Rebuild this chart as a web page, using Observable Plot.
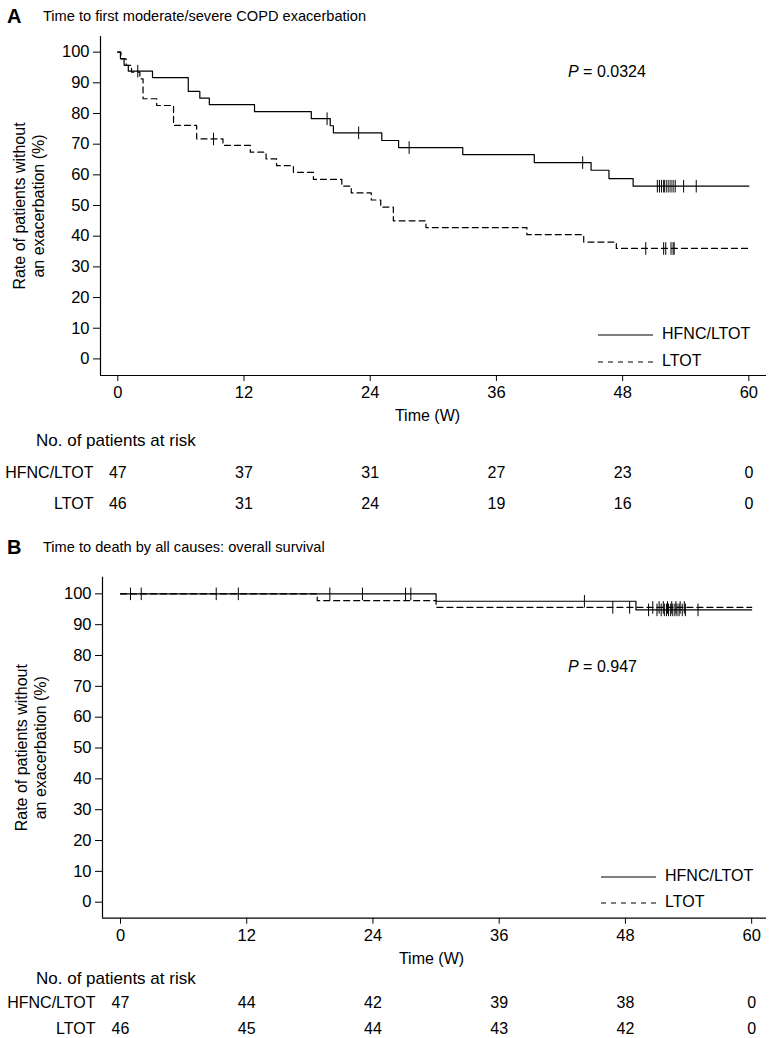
<!DOCTYPE html>
<html><head><meta charset="utf-8">
<script src="https://cdn.jsdelivr.net/npm/d3@7"></script>
<script src="https://cdn.jsdelivr.net/npm/@observablehq/plot@0.6"></script>
<style>
body{margin:0;background:#fff;font-family:"Liberation Sans",Arial,Helvetica,sans-serif;color:#000}
#page{position:relative;width:769px;height:1038px;overflow:hidden;background:#fff}
.abs{position:absolute;white-space:nowrap;line-height:1}
#page svg{position:absolute;left:0}
</style></head><body><div id="page"></div>
<script>
// ---------- data ----------
const groups = ["HFNC/LTOT", "LTOT"];
const xTicks = [0, 12, 24, 36, 48, 60];
const yTicks = [0, 10, 20, 30, 40, 50, 60, 70, 80, 90, 100];
const riskTimes = [0, 12, 24, 36, 48, 60];

// Panel A: time to first moderate/severe COPD exacerbation
const aTitle = "Time to first moderate/severe COPD exacerbation";
const aPValue = "0.0324";
const aHfncTime = [0, 0.25, 0.6, 1.0, 3.3, 6.7, 7.8, 8.7, 13.0, 18.4, 20.2, 20.5, 25.1, 26.7, 32.8, 39.6, 45.0, 46.7, 49.0, 60];
const aHfncSurv = [100, 97.9, 95.7, 93.8, 91.7, 87.2, 85.0, 82.9, 80.6, 78.3, 76.0, 73.7, 71.2, 68.9, 66.6, 64.0, 61.5, 58.8, 56.3, 56.3];
const aHfncCensor = [1.9, 19.9, 22.9, 27.7, 44.2, 51.3, 51.5, 51.7, 51.9, 52.0, 52.2, 52.4, 52.6, 52.8, 53.0, 53.8, 55.0];
const aLtotTime = [0, 0.3, 0.8, 1.3, 2.1, 2.4, 3.7, 5.3, 7.5, 10.0, 12.6, 14.1, 15.1, 16.7, 18.6, 21.3, 22.2, 24.1, 25.0, 26.2, 29.3, 38.9, 44.3, 47.4, 60];
const aLtotSurv = [100, 97.8, 95.7, 93.5, 91.3, 84.8, 82.6, 76.1, 71.7, 69.6, 67.4, 65.2, 63.0, 60.8, 58.5, 56.3, 54.1, 51.8, 49.5, 45.0, 42.8, 40.5, 38.1, 36.0, 36.0];
const aLtotCensor = [9.1, 50.2, 51.9, 52.1, 52.6, 52.8, 52.9];
const aRiskHfnc = [47, 37, 31, 27, 23, 0];
const aRiskLtot = [46, 31, 24, 19, 16, 0];

// Panel B: time to death by all causes
const bTitle = "Time to death by all causes: overall survival";
const bPValue = "0.947";
const bHfncTime = [0, 30.0, 49.0, 60];
const bHfncSurv = [100, 97.6, 94.8, 94.8];
const bHfncCensor = [0.95, 9.1, 11.2, 19.9, 23.0, 27.1, 27.6, 44.1, 50.2, 51.0, 51.4, 51.7, 51.9, 52.1, 52.3, 52.5, 52.7, 52.9, 53.1, 53.4, 53.7, 54.9];
const bLtotTime = [0, 18.7, 30.0, 60];
const bLtotSurv = [100, 97.8, 95.6, 95.6];
const bLtotCensor = [1.97, 46.8, 48.4, 50.6, 51.2, 51.6, 52.0, 52.4, 52.8, 53.2, 53.6];
const bRiskHfnc = [47, 44, 42, 39, 38, 0];
const bRiskLtot = [46, 45, 44, 43, 42, 0];

const yLabel = "Rate of patients without\nan exacerbation (%)";
const xLabel = "Time (W)";
const riskLabel = "No. of patients at risk";

// ---------- helpers ----------
const FONT = '"Liberation Sans", Arial, Helvetica, sans-serif';
const page = document.getElementById("page");
function toRows(times, survs) { return times.map((t, i) => ({t, s: survs[i]})); }
function stepAt(times, survs, t) { let v = survs[0]; for (let i = 0; i < times.length; i++) if (times[i] <= t) v = survs[i]; return v; }
function censorRows(cens, times, survs) { return cens.map(t => ({t, s: stepAt(times, survs, t)})); }
const tickSymbol = {draw(ctx) { ctx.moveTo(0, -6.3); ctx.lineTo(0, 6.3); }};

function addText(txt, left, cy, size, extra = "") {
  const d = document.createElement("div");
  d.className = "abs";
  d.style.cssText = `left:${left}px;top:${cy - size * 0.55}px;font-size:${size}px;${extra}`;
  d.innerHTML = txt;
  page.appendChild(d);
  return d;
}
function addLegend(x1, x2, textX, cy1, cy2) {
  const ns = "http://www.w3.org/2000/svg";
  const s = document.createElementNS(ns, "svg");
  s.setAttribute("width", 769); s.setAttribute("height", 1038);
  s.style.cssText = "position:absolute;left:0;top:0;pointer-events:none;background:transparent";
  [[cy1, null], [cy2, "5,5"]].forEach(([cy, dash]) => {
    const l = document.createElementNS(ns, "line");
    l.setAttribute("x1", x1); l.setAttribute("x2", x2); l.setAttribute("y1", cy); l.setAttribute("y2", cy);
    l.setAttribute("stroke", "#000"); l.setAttribute("stroke-width", 1.2);
    if (dash) l.setAttribute("stroke-dasharray", dash);
    s.appendChild(l);
  });
  page.appendChild(s);
  addText(groups[0], textX, cy1, 16);
  addText(groups[1], textX, cy2, 16);
}

function kmPlot(cfg) {
  const p = Plot.plot({
    width: 769, height: cfg.height,
    marginLeft: cfg.ml, marginRight: cfg.mr, marginTop: cfg.mt, marginBottom: cfg.mb,
    style: {fontSize: "16.5px", fontFamily: FONT, background: "transparent", overflow: "visible", color: "#000"},
    x: {domain: cfg.xDomain, ticks: xTicks, tickSize: 6, tickPadding: 5, label: null},
    y: {domain: cfg.yDomain, ticks: yTicks, tickSize: 7, tickPadding: 4, label: null},
    marks: [
      Plot.ruleX([cfg.xDomain[0]], {stroke: "#000", strokeWidth: 1.2}),
      Plot.ruleY([cfg.yDomain[0]], {stroke: "#000", strokeWidth: 1.2}),
      Plot.line(toRows(cfg.hT, cfg.hS), {x: "t", y: "s", curve: "step-after", stroke: "#000", strokeWidth: 1.2}),
      Plot.line(toRows(cfg.lT, cfg.lS), {x: "t", y: "s", curve: "step-after", stroke: "#000", strokeWidth: 1.2, strokeDasharray: "6,4"}),
      Plot.dot(censorRows(cfg.hC, cfg.hT, cfg.hS), {x: "t", y: "s", symbol: tickSymbol, fill: "none", stroke: "#000", strokeWidth: 1}),
      Plot.dot(censorRows(cfg.lC, cfg.lT, cfg.lS), {x: "t", y: "s", symbol: tickSymbol, fill: "none", stroke: "#000", strokeWidth: 1}),
      Plot.text([xLabel], {text: d => d, frameAnchor: "bottom", dy: cfg.xLabelDy, dx: cfg.xLabelDx, lineAnchor: "middle", fontSize: 16}),
      Plot.text([yLabel], {text: d => d, frameAnchor: "left", rotate: -90, dx: -72, lineAnchor: "middle", textAnchor: "middle", fontSize: 16, lineHeight: 1.15})
    ]
  });
  p.style.top = cfg.top + "px";
  page.appendChild(p);
}

function riskPlot(cfg, hfnc, ltot) {
  const rows = [];
  riskTimes.forEach((t, i) => { rows.push({t, g: groups[0], n: hfnc[i]}); rows.push({t, g: groups[1], n: ltot[i]}); });
  const p = Plot.plot({
    width: 769, height: cfg.height,
    marginLeft: cfg.ml, marginRight: cfg.mr, marginTop: 0, marginBottom: 0,
    style: {fontSize: "16px", fontFamily: FONT, background: "transparent", overflow: "visible", color: "#000"},
    x: {domain: cfg.xDomain, axis: null},
    y: {type: "point", domain: groups, range: cfg.range, padding: 0, tickSize: 0, tickPadding: 7, label: null},
    marks: [Plot.text(rows, {x: "t", y: "g", text: "n", fontSize: 16})]
  });
  p.style.top = cfg.top + "px";
  page.appendChild(p);
}

// ---------- Panel A ----------
const xDomA = [-1.645, 61.68], yDomA = [-5.41, 105.1];
kmPlot({top: 0, height: 430, ml: 100, mr: 3, mt: 36, mb: 55, xDomain: xDomA, yDomain: yDomA,
  hT: aHfncTime, hS: aHfncSurv, hC: aHfncCensor, lT: aLtotTime, lS: aLtotSurv, lC: aLtotCensor, xLabelDy: 40, xLabelDx: -6});
riskPlot({top: 455, height: 65, ml: 100, mr: 3, xDomain: xDomA, range: [17, 48]}, aRiskHfnc, aRiskLtot);
addText("A", 7, 17, 20, "font-weight:bold");
addText(aTitle, 43, 17, 14.6);
addText(`<i>P</i> = ${aPValue}`, 568, 73, 16);
addText(riskLabel, 36, 441, 17);
addLegend(598, 653, 662, 335, 362);

// ---------- Panel B ----------
const xDomB = [-1.711, 61.41], yDomB = [-5.19, 105.4];
kmPlot({top: 540, height: 440, ml: 102, mr: 3, mt: 36.7, mb: 62.3, xDomain: xDomB, yDomain: yDomB,
  hT: bHfncTime, hS: bHfncSurv, hC: bHfncCensor, lT: bLtotTime, lS: bLtotSurv, lC: bLtotCensor, xLabelDy: 41, xLabelDx: -3});
riskPlot({top: 985, height: 53, ml: 102, mr: 3, xDomain: xDomB, range: [17, 43]}, bRiskHfnc, bRiskLtot);
addText("B", 7, 548, 20, "font-weight:bold");
addText(bTitle, 43, 548, 14.6);
addText(`<i>P</i> = ${bPValue}`, 568, 668, 16);
addText(riskLabel, 36, 979, 17);
addLegend(601, 656, 665, 877, 903);
</script></body></html>
